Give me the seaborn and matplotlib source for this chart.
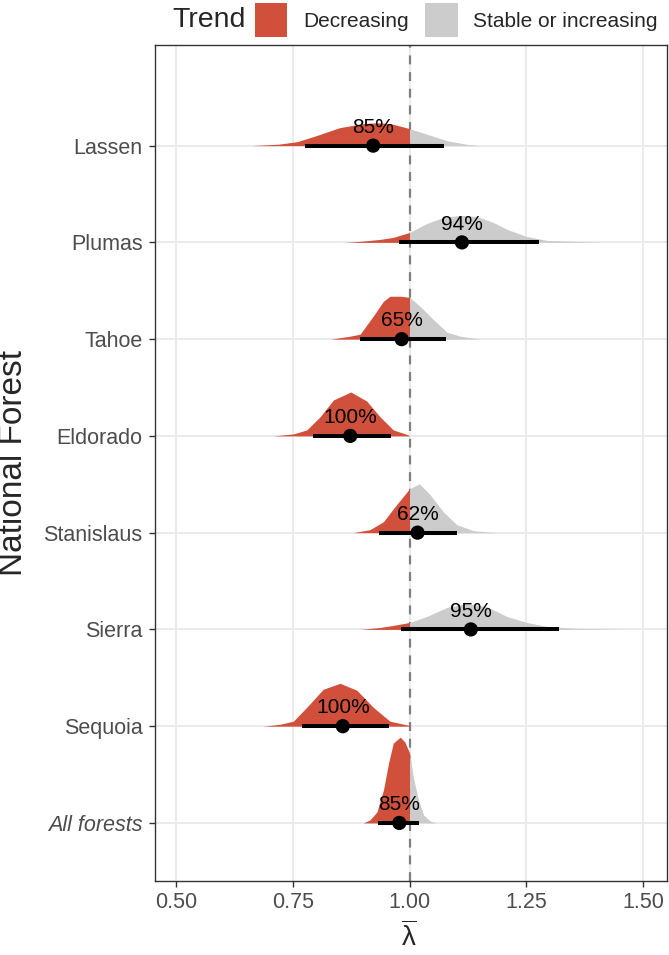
import numpy as np
import pandas as pd
import matplotlib
matplotlib.use("Agg")
import matplotlib.pyplot as plt
from matplotlib.patches import Patch
import seaborn as sns

# ---------------- data ----------------
forests = ["Lassen", "Plumas", "Tahoe", "Eldorado", "Stanislaus", "Sierra", "Sequoia", "All forests"]
pct_labels = ["85%", "94%", "65%", "100%", "62%", "95%", "100%", "85%"]
medians = [0.922, 1.112, 0.983, 0.873, 1.017, 1.131, 0.857, 0.978]
lowers = [0.776, 0.977, 0.893, 0.793, 0.935, 0.981, 0.769, 0.932]
uppers = [1.074, 1.277, 1.078, 0.960, 1.102, 1.319, 0.955, 1.021]

# density profiles (lambda value, relative density)
dens_x = {
    "Lassen": [0.66, 0.72, 0.76, 0.80, 0.85, 0.90, 0.93, 0.96, 1.00, 1.04, 1.08, 1.12, 1.15],
    "Plumas": [0.86, 0.894, 0.937, 0.965, 1.00, 1.037, 1.072, 1.108, 1.144, 1.179, 1.209, 1.25, 1.294, 1.35, 1.42],
    "Tahoe": [0.83, 0.873, 0.894, 0.922, 0.944, 0.958, 0.980, 1.00, 1.022, 1.050, 1.080, 1.108, 1.151],
    "Eldorado": [0.708, 0.751, 0.780, 0.808, 0.837, 0.874, 0.908, 0.937, 0.965, 0.997, 1.00],
    "Stanislaus": [0.879, 0.915, 0.944, 0.972, 1.00, 1.021, 1.044, 1.072, 1.101, 1.137, 1.187],
    "Sierra": [0.894, 0.937, 0.965, 1.00, 1.037, 1.080, 1.122, 1.165, 1.208, 1.251, 1.294, 1.358, 1.465],
    "Sequoia": [0.687, 0.723, 0.751, 0.780, 0.815, 0.851, 0.887, 0.922, 0.958, 0.997, 1.00],
    "All forests": [0.901, 0.915, 0.930, 0.944, 0.955, 0.965, 0.980, 0.990, 1.00, 1.008, 1.019, 1.030, 1.044, 1.058],
}
dens_y = {
    "Lassen": [0, 0.017, 0.047, 0.116, 0.209, 0.256, 0.267, 0.256, 0.198, 0.128, 0.058, 0.017, 0],
    "Plumas": [0, 0.012, 0.035, 0.058, 0.116, 0.221, 0.291, 0.314, 0.302, 0.233, 0.151, 0.070, 0.023, 0.012, 0],
    "Tahoe": [0, 0.035, 0.058, 0.267, 0.442, 0.50, 0.50, 0.488, 0.384, 0.233, 0.081, 0.035, 0],
    "Eldorado": [0, 0.023, 0.070, 0.221, 0.419, 0.512, 0.407, 0.221, 0.070, 0.012, 0.0],
    "Stanislaus": [0, 0.035, 0.128, 0.326, 0.512, 0.570, 0.442, 0.244, 0.093, 0.023, 0],
    "Sierra": [0, 0.023, 0.047, 0.081, 0.151, 0.256, 0.302, 0.267, 0.151, 0.081, 0.035, 0.012, 0],
    "Sequoia": [0, 0.023, 0.058, 0.221, 0.430, 0.50, 0.419, 0.221, 0.058, 0.012, 0],
    "All forests": [0, 0.035, 0.128, 0.384, 0.698, 0.930, 1.0, 0.942, 0.814, 0.535, 0.267, 0.093, 0.023, 0],
}
x_ticks = [0.50, 0.75, 1.00, 1.25, 1.50]
x_tick_labels = ["0.50", "0.75", "1.00", "1.25", "1.50"]
trend_labels = ["Decreasing", "Stable or increasing"]

# ---------------- style ----------------
RED = "#D1503B"
GRAY = "#CCCCCC"
sns.set_theme(style="white")
plt.rcParams["font.family"] = ["Liberation Sans", "DejaVu Sans"]
plt.rcParams["mathtext.fontset"] = "custom"
plt.rcParams["mathtext.rm"] = "Liberation Sans"
plt.rcParams["mathtext.it"] = "Liberation Sans"

fig = plt.figure(figsize=(6.69, 9.55), dpi=100)
ax = fig.add_axes([155 / 669, 1 - 881 / 955, 512 / 669, 836 / 955])

n = len(forests)
pos = {f: n - 1 - i for i, f in enumerate(forests)}
scale = 0.887

# grid
for xt in x_ticks:
    ax.axvline(xt, color="#EBEBEB", lw=1.4, zorder=0)
for f in forests:
    ax.axhline(pos[f], color="#EBEBEB", lw=1.4, zorder=0)

ax.axvline(1.0, color="#7F7F7F", lw=1.6, linestyle=(0, (4, 3.5)), zorder=1)

# half-eye densities
for f in forests:
    xs = np.array(dens_x[f])
    ys = pos[f] + np.array(dens_y[f]) * scale
    left = xs <= 1.0
    right = xs >= 1.0
    if left.sum() > 1:
        ax.fill_between(xs[left], pos[f], ys[left], color=RED, lw=0, zorder=2)
    if right.sum() > 1:
        ax.fill_between(xs[right], pos[f], ys[right], color=GRAY, lw=0, zorder=2)

df = pd.DataFrame({"forest": forests, "median": medians, "lower": lowers,
                   "upper": uppers, "pct": pct_labels})
df["y"] = df["forest"].map(pos)

ax.hlines(df["y"], df["lower"], df["upper"], color="black", lw=2.9, zorder=3)
sns.scatterplot(data=df, x="median", y="y", s=105, color="black", edgecolor="none",
                zorder=4, ax=ax, legend=False)
for _, r in df.iterrows():
    ax.text(r["median"], r["y"] + 0.19, r["pct"], ha="center", va="center",
            fontsize=15, color="black", zorder=5)

ax.set_xlim(0.455, 1.551)
ax.set_ylim(-0.6, 8.04)
ax.set_xticks(x_ticks)
ax.set_xticklabels(x_tick_labels)
ax.set_yticks([pos[f] for f in forests])
ax.set_yticklabels(forests)
for lab in ax.get_yticklabels():
    if lab.get_text() == "All forests":
        lab.set_fontstyle("italic")
ax.tick_params(axis="both", which="major", length=4, width=1, color="#333333",
               labelsize=15.5, labelcolor="#4D4D4D", direction="out",
               bottom=True, left=True)
ax.tick_params(axis="y", pad=5)
ax.tick_params(axis="x", pad=4)
for sp in ax.spines.values():
    sp.set_color("#333333")
    sp.set_linewidth(1.0)
ax.set_xlabel("")
ax.set_ylabel("")

fig.text(409 / 669, 1 - 937 / 955, r"$\overline{\lambda}$", ha="center", va="center", fontsize=20)
fig.text(14 / 669, 1 - 463 / 955, "National Forest", rotation=90, ha="center", va="center", fontsize=24)

# legend
fig.text(172 / 669, 1 - 20 / 955, "Trend", ha="left", va="center", fontsize=20.5)
handles = [Patch(facecolor=RED, edgecolor="none"), Patch(facecolor=GRAY, edgecolor="none")]
fig.legend(handles, trend_labels, loc="center left", bbox_to_anchor=(255 / 669, 1 - 20 / 955),
           ncol=2, frameon=False, fontsize=15, handlelength=1.55, handleheight=2.1,
           handletextpad=0.75, columnspacing=0.8, borderpad=0, borderaxespad=0)

fig.savefig("out.png", dpi=100)
